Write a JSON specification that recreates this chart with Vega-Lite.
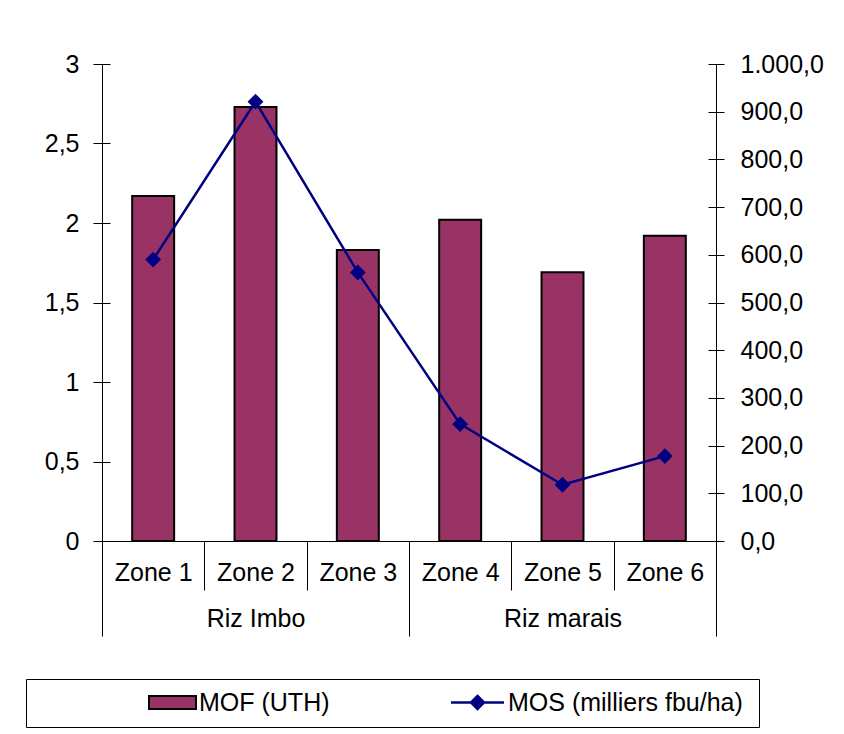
{
  "$schema": "https://vega.github.io/schema/vega-lite/v6.json",
  "width": 614,
  "height": 477,
  "autosize": {"type": "none"},
  "padding": {"left": 102, "top": 64, "right": 128, "bottom": 193},
  "background": "white",
  "config": {
    "view": {"stroke": null},
    "font": "Liberation Sans",
    "axis": {"labelFont": "Liberation Sans", "labelFontSize": 25, "labelColor": "black", "domainColor": "black", "tickColor": "black", "grid": false, "title": null},
    "legend": {"labelFont": "Liberation Sans", "labelFontSize": 25, "labelColor": "black", "labelLimit": 500, "title": null, "symbolSize": 400, "symbolOpacity": 1}
  },
  "data": {
    "values": [
      {"zone": "Zone 1", "group": "Riz Imbo", "MOF": 2.17, "MOS": 590},
      {"zone": "Zone 2", "group": "Riz Imbo", "MOF": 2.73, "MOS": 921},
      {"zone": "Zone 3", "group": "Riz Imbo", "MOF": 1.83, "MOS": 563},
      {"zone": "Zone 4", "group": "Riz marais", "MOF": 2.02, "MOS": 245},
      {"zone": "Zone 5", "group": "Riz marais", "MOF": 1.69, "MOS": 118},
      {"zone": "Zone 6", "group": "Riz marais", "MOF": 1.92, "MOS": 178}
    ]
  },
  "layer": [
    {
      "mark": {"type": "bar", "stroke": "black", "strokeWidth": 2, "width": {"band": 0.41}},
      "encoding": {
        "x": {"field": "zone", "type": "nominal", "sort": null,
          "scale": {"paddingInner": 0, "paddingOuter": 0},
          "axis": {"title": null, "labelAngle": 0, "tickBand": "extent", "tickSize": 49, "labelPadding": -30}},
        "y": {"field": "MOF", "type": "quantitative", "scale": {"domain": [0, 3]},
          "axis": {"orient": "left", "values": [0, 0.5, 1, 1.5, 2, 2.5, 3], "labelExpr": "replace(format(datum.value, '~g'), '.', ',')", "tickSize": 9, "labelPadding": 14}},
        "fill": {"datum": "MOF (UTH)", "type": "nominal",
          "scale": {"domain": ["MOF (UTH)"], "range": ["#993366"]},
          "legend": {
            "orient": "none", "legendX": 47, "legendY": 615, "padding": 11, "strokeColor": null, "fillColor": null,
            "symbolType": "M-2.35,-0.65H2.35V0.65H-2.35Z", "symbolStrokeColor": "black", "symbolStrokeWidth": 2,
            "symbolOffset": 0, "labelOffset": 14, "zindex": 2
          }}
      }
    },
    {
      "mark": {"type": "line", "strokeWidth": 2.5, "point": {"shape": "diamond", "size": 170, "filled": true, "fill": "#000080", "stroke": "#000080", "opacity": 1}},
      "encoding": {
        "x": {"field": "zone", "type": "nominal", "sort": null, "scale": {"padding": 0.5}, "axis": null},
        "y": {"field": "MOS", "type": "quantitative", "scale": {"domain": [0, 1000]},
          "axis": {"orient": "right", "values": [0, 100, 200, 300, 400, 500, 600, 700, 800, 900, 1000],
            "labelExpr": "replace(replace(replace(format(datum.value, ',.1f'), ',', '_'), '.', ','), '_', '.')",
            "tickSize": 8, "labelPadding": 16}},
        "stroke": {"datum": "MOS (milliers fbu/ha)", "type": "nominal",
          "scale": {"domain": ["MOS (milliers fbu/ha)"], "range": ["#000080"]},
          "legend": {
            "orient": "none", "legendX": -76, "legendY": 615, "padding": 11, "strokeColor": "black", "fillColor": null,
            "symbolType": "M-2.65,0H2.65M0,-0.65L0.65,0L0,0.65L-0.65,0Z", "symbolFillColor": "#000080", "symbolStrokeWidth": 2.5,
            "symbolOffset": 428, "labelOffset": 18, "zindex": 1,
            "title": "\u00a0\u00a0\u00a0\u00a0\u00a0\u00a0\u00a0\u00a0\u00a0\u00a0\u00a0\u00a0\u00a0\u00a0\u00a0\u00a0\u00a0\u00a0\u00a0\u00a0\u00a0\u00a0\u00a0\u00a0\u00a0\u00a0\u00a0\u00a0\u00a0\u00a0\u00a0\u00a0\u00a0\u00a0\u00a0\u00a0\u00a0\u00a0\u00a0\u00a0",
            "titleOrient": "right", "titleFontSize": 25, "titlePadding": 5
          }}
      }
    },
    {
      "mark": {"type": "tick", "opacity": 0},
      "encoding": {
        "x": {"field": "group", "type": "nominal", "sort": null,
          "scale": {"paddingInner": 0, "paddingOuter": 0},
          "axis": {"orient": "bottom", "title": null, "labelAngle": 0, "tickBand": "extent", "tickSize": 95, "labelPadding": -30, "domain": false}},
        "y": {"field": "MOF", "type": "quantitative", "scale": {"domain": [0, 3]},
          "axis": {"orient": "left", "values": [0, 0.5, 1, 1.5, 2, 2.5, 3], "labels": false, "domain": false, "tickSize": -8}}
      }
    },
    {
      "mark": {"type": "point", "opacity": 0},
      "encoding": {
        "y": {"field": "MOS", "type": "quantitative", "scale": {"domain": [0, 1000]},
          "axis": {"orient": "right", "values": [0, 100, 200, 300, 400, 500, 600, 700, 800, 900, 1000], "labels": false, "domain": false, "tickSize": -8}}
      }
    }
  ],
  "resolve": {"scale": {"x": "independent", "y": "independent"}}
}
